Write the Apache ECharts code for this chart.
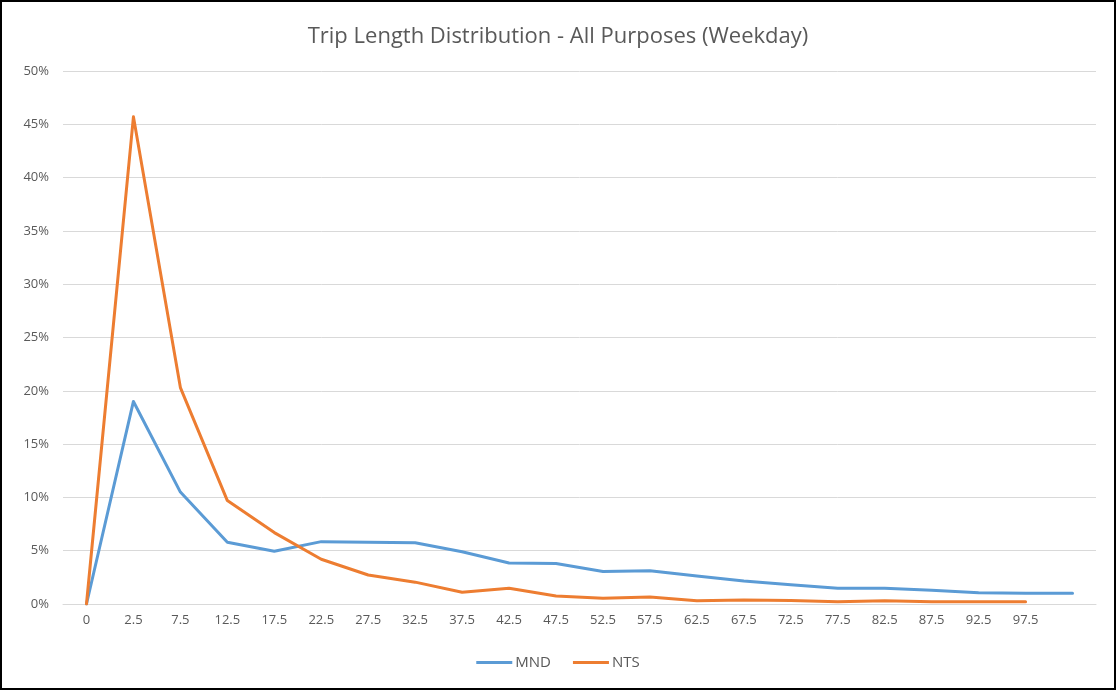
<!DOCTYPE html>
<html>
<head>
<meta charset="utf-8">
<script src="https://cdn.jsdelivr.net/npm/echarts@6/dist/echarts.min.js"></script>
<style>
  html, body { margin: 0; padding: 0; background: #fff; }
  #frame { width: 1116px; height: 690px; box-sizing: border-box; border: 2px solid #000; }
  #chart { width: 100%; height: 100%; }
</style>
</head>
<body>
<div id="frame"><div id="chart"></div></div>
<script>
// Trip length bands (miles); the last MND point has no band label
const categories = ['0', '2.5', '7.5', '12.5', '17.5', '22.5', '27.5', '32.5', '37.5', '42.5', '47.5',
  '52.5', '57.5', '62.5', '67.5', '72.5', '77.5', '82.5', '87.5', '92.5', '97.5', ''];

// Share of trips (%) per band
const mnd = [0, 19.0, 10.5, 5.8, 4.95, 5.85, 5.8, 5.75, 4.9, 3.85, 3.8,
  3.05, 3.12, 2.62, 2.15, 1.8, 1.47, 1.47, 1.28, 1.05, 1.0, 1.0];
const nts = [0, 45.7, 20.3, 9.7, 6.7, 4.2, 2.72, 2.05, 1.1, 1.48, 0.75,
  0.53, 0.66, 0.3, 0.38, 0.32, 0.2, 0.3, 0.22, 0.2, 0.2];

const yTicks = { min: 0, max: 50, step: 5 };

const textColor = '#595959';
const fontFamily = 'Open Sans, Noto Sans, sans-serif';

const chart = echarts.init(document.getElementById('chart'));
chart.setOption({
  animation: false,
  title: {
    text: 'Trip Length Distribution - All Purposes (Weekday)',
    left: 'center',
    top: 19,
    textStyle: { color: textColor, fontSize: 22, fontWeight: 'normal', fontFamily: fontFamily }
  },
  legend: {
    bottom: 13,
    left: 'center',
    itemWidth: 36,
    itemHeight: 3,
    itemGap: 22,
    icon: 'rect',
    textStyle: { color: textColor, fontSize: 15, fontFamily: fontFamily, padding: [0, 0, 0, -2] },
    data: ['MND', 'NTS']
  },
  grid: { left: 61, right: 18, top: 69, bottom: 84 },
  xAxis: {
    type: 'category',
    data: categories,
    boundaryGap: true,
    axisLine: { lineStyle: { color: '#d9d9d9', width: 1 } },
    axisTick: { show: false },
    axisLabel: { color: textColor, fontSize: 13, fontFamily: fontFamily, margin: 10, interval: 0 }
  },
  yAxis: {
    type: 'value',
    min: yTicks.min,
    max: yTicks.max,
    interval: yTicks.step,
    axisLine: { show: false },
    axisTick: { show: false },
    splitLine: { lineStyle: { color: '#d9d9d9', width: 1 } },
    axisLabel: { color: textColor, fontSize: 13, fontFamily: fontFamily, margin: 14, formatter: '{value}%' }
  },
  series: [
    {
      name: 'MND', type: 'line', data: mnd, symbol: 'none',
      lineStyle: { color: '#5B9BD5', width: 3, join: 'round', cap: 'round' },
      itemStyle: { color: '#5B9BD5' }
    },
    {
      name: 'NTS', type: 'line', data: nts, symbol: 'none',
      lineStyle: { color: '#ED7D31', width: 3, join: 'round', cap: 'round' },
      itemStyle: { color: '#ED7D31' }
    }
  ]
});
</script>
</body>
</html>
